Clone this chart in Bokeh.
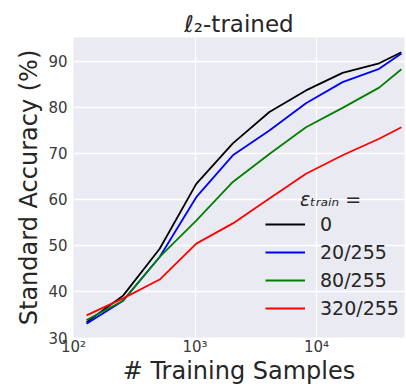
from bokeh.plotting import figure
from bokeh.models import FixedTicker, Range1d, Legend, LegendItem, Label
from bokeh.embed import file_html
from bokeh.resources import INLINE

samples = [128, 256, 512, 1024, 2048, 4096, 8192, 16384, 32768, 50000]
acc_0 = [33.3, 39.1, 49.3, 63.4, 72.2, 79.0, 83.7, 87.5, 89.6, 92.0]
acc_20 = [33.0, 38.0, 47.5, 60.5, 69.6, 75.0, 80.9, 85.5, 88.4, 91.7]
acc_80 = [33.8, 38.0, 47.5, 55.4, 63.8, 69.9, 75.7, 79.9, 84.3, 88.3]
acc_320 = [34.8, 38.5, 42.6, 50.4, 54.8, 60.2, 65.6, 69.6, 73.2, 75.7]
series_labels = ["0", "20/255", "80/255", "320/255"]
series_colors = ["#000000", "#0000FF", "#008000", "#FF0000"]
x_ticks = [100, 1000, 10000]
x_tick_labels = ["10\u00b2", "10\u00b3", "10\u2074"]
y_ticks = [30, 40, 50, 60, 70, 80, 90]

FONT = "DejaVu Sans"

p = figure(frame_width=331, frame_height=300, x_axis_type="log", output_backend="svg",
           toolbar_location=None, min_border_left=73, min_border_right=2,
           min_border_top=37, min_border_bottom=50,
           x_range=Range1d(100, 53000), y_range=Range1d(30, 95.2))

p.background_fill_color = "#EAEAF2"
p.border_fill_color = "white"
p.outline_line_color = None

p.title.text = "\u2113\u2082-trained"
p.title.align = "center"
p.title.text_font = FONT
p.title.text_font_size = "23px"
p.title.text_font_style = "normal"
p.title.text_color = "#262626"
p.title.standoff = 2

for ax in (p.xaxis[0], p.yaxis[0]):
    ax.axis_line_color = None
    ax.major_tick_line_color = None
    ax.minor_tick_line_color = None
    ax.major_tick_out = 0
    ax.minor_tick_out = 0
    ax.major_tick_in = 0
    ax.minor_tick_in = 0
    ax.major_label_text_font = FONT
    ax.major_label_text_font_size = "15px"
    ax.major_label_text_color = "#3a3a3a"
    ax.axis_label_text_font = FONT
    ax.axis_label_text_font_size = "24px"
    ax.axis_label_text_font_style = "normal"
    ax.axis_label_text_color = "#262626"

p.xaxis.ticker = FixedTicker(ticks=x_ticks)
p.xaxis.major_label_overrides = {t: l for t, l in zip(x_ticks, x_tick_labels)}
p.xaxis.axis_label = "# Training Samples"
p.xaxis.major_label_standoff = 0
p.xaxis.axis_label_standoff = -2
p.yaxis.ticker = FixedTicker(ticks=y_ticks)
p.yaxis.axis_label = "Standard Accuracy (%)"
p.yaxis.major_label_standoff = 6
p.yaxis.axis_label_standoff = 2

p.xgrid.grid_line_color = "white"
p.ygrid.grid_line_color = "white"
p.xgrid.grid_line_width = 1.3
p.ygrid.grid_line_width = 1.3
p.xgrid.ticker = FixedTicker(ticks=x_ticks)
p.ygrid.ticker = FixedTicker(ticks=y_ticks)

items = []
for vals, lab, col in zip([acc_0, acc_20, acc_80, acc_320], series_labels, series_colors):
    r = p.line(samples, vals, line_color=col, line_width=1.8)
    items.append(LegendItem(label=lab, renderers=[r]))

legend = Legend(items=items, location=(192, 18))
legend.label_text_font = FONT
legend.label_text_font_size = "19px"
legend.label_text_color = "#262626"
legend.label_text_baseline = "middle"
legend.glyph_width = 40
legend.glyph_height = 22
legend.label_height = 22
legend.label_standoff = 15
legend.spacing = 6
legend.padding = 0
legend.margin = 0
legend.background_fill_alpha = 0
legend.border_line_color = None
p.add_layout(legend)

legend_title = Label(x=257, y=139, x_units="screen", y_units="screen",
                     text="\u03b5\u209c\u1d63\u2090\u1d62\u2099 =",
                     text_align="center", text_baseline="middle",
                     text_font=FONT, text_font_size="19px", text_font_style="italic",
                     text_color="#262626")
p.add_layout(legend_title)

open("out.html", "w").write(file_html(p, INLINE))
